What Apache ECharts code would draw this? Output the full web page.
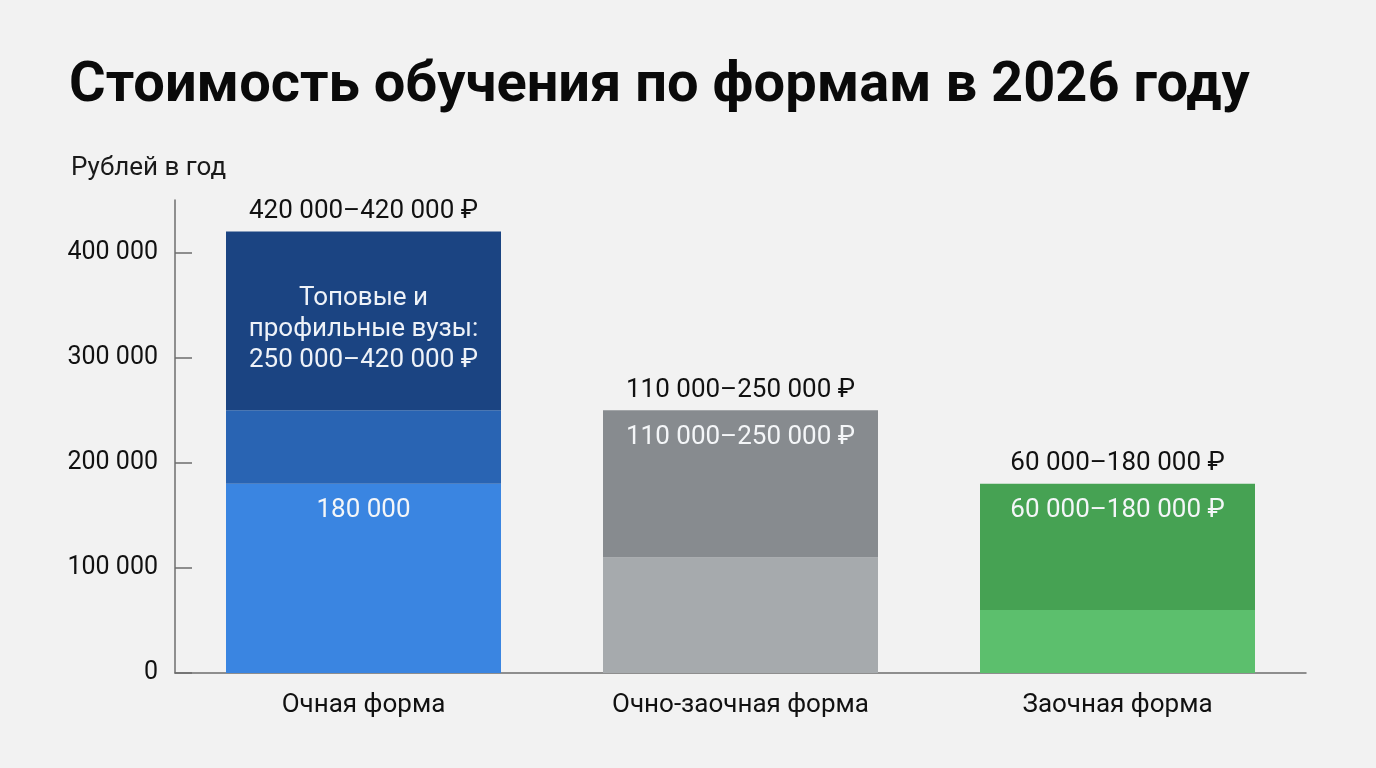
<!DOCTYPE html>
<html>
<head>
<meta charset="utf-8">
<script src="https://cdn.jsdelivr.net/npm/echarts@6/dist/echarts.min.js"></script>
<style>
html,body{margin:0;padding:0;background:#f2f2f2;}
#chart{width:1376px;height:768px;}
</style>
</head>
<body>
<div id="chart"></div>
<script>
const titleText = 'Стоимость обучения по формам в 2026 году';
const unitText = 'Рублей в год';
const categories = ['Очная форма', 'Очно-заочная форма', 'Заочная форма'];
// segment bounds (rubles per year)
const lowerValues = [180000, 110000, 60000];      // top of lower segment
const middleValues = [250000, 250000, 180000];    // top of middle segment
const topTierValues = [420000, null, null];       // top of top-tier segment
const yTicks = [0, 100000, 200000, 300000, 400000];
const topLabels = ['420 000–420 000 ₽', '110 000–250 000 ₽', '60 000–180 000 ₽'];
const innerLabels = ['180 000', '110 000–250 000 ₽', '60 000–180 000 ₽'];
const tierLabel = 'Топовые и\nпрофильные вузы:\n250 000–420 000 ₽';

const lowerColors = ['#3a85e1', '#a6aaad', '#5cbf6d'];
const middleColors = ['#2964b3', '#878b8f', '#46a253'];
const tierColor = '#1b4482';

const fmt = v => String(v).replace(/\B(?=(\d{3})+(?!\d))/g, ' ');

const FONT = 'Roboto';
const FS = 26;
const topLabelStyle = {show: true, position: 'top', distance: 7, color: '#111', fontSize: FS, fontFamily: FONT};
const innerLabelStyle = {show: true, position: 'insideTop', distance: 14, color: '#f4f6f8', fontSize: FS, fontFamily: FONT};

const lowerData = lowerValues.map((v, i) => ({
  value: v,
  itemStyle: {color: lowerColors[i]},
  label: i === 0 ? Object.assign({}, innerLabelStyle, {formatter: innerLabels[i]}) : {show: false}
}));
const middleData = middleValues.map((v, i) => {
  const hasTier = topTierValues[i] != null;
  let label = {show: false};
  if (!hasTier) {
    label = Object.assign({}, innerLabelStyle, {formatter: innerLabels[i]});
  }
  return {value: v - lowerValues[i], itemStyle: {color: middleColors[i]}, label};
});
const middleTopLabels = middleValues.map((v, i) => topTierValues[i] == null ? {
  value: v - lowerValues[i], label: Object.assign({}, topLabelStyle, {formatter: topLabels[i]})
} : {value: v - lowerValues[i], label: {show: false}});
const tierData = topTierValues.map((v, i) => v == null ? '-' : ({
  value: v - middleValues[i],
  itemStyle: {color: tierColor},
  label: {show: true, position: 'inside', offset: [0, 9], color: '#eef2f8', fontSize: FS, lineHeight: 31, fontFamily: FONT, align: 'center', formatter: tierLabel}
}));
const tierTopData = topTierValues.map((v, i) => v == null ? '-' : ({
  value: v - middleValues[i],
  label: Object.assign({}, topLabelStyle, {formatter: topLabels[i]})
}));

const chart = echarts.init(document.getElementById('chart'));
chart.setOption({
  backgroundColor: '#f2f2f2',
  animation: false,
  title: [
    {text: titleText, left: 64, top: 54, textStyle: {fontFamily: FONT, fontWeight: 'bold', fontSize: 56, color: '#0a0a0a'}},
    {text: unitText, left: 66, top: 150, textStyle: {fontFamily: FONT, fontWeight: 'normal', fontSize: FS, color: '#1a1a1a'}}
  ],
  grid: {left: 175, right: 70, top: 200, bottom: 95, containLabel: false},
  xAxis: {
    type: 'category',
    data: categories,
    axisLine: {lineStyle: {color: '#6e6e6e', width: 1.5}},
    axisTick: {show: false},
    axisLabel: {color: '#111', fontSize: FS, fontFamily: FONT, margin: 19}
  },
  yAxis: {
    type: 'value',
    min: 0, max: 450000, interval: 100000,
    splitLine: {show: false},
    axisLine: {show: true, lineStyle: {color: '#6e6e6e', width: 1.5}},
    axisTick: {show: true, inside: true, length: 17, lineStyle: {color: '#6e6e6e', width: 1.5}, customValues: yTicks},
    axisLabel: {color: '#111', fontSize: 25, fontFamily: FONT, margin: 17, customValues: yTicks, formatter: v => fmt(v)}
  },
  series: [
    {type: 'bar', stack: 's', barWidth: 275, data: lowerData, z: 2},
    {type: 'bar', stack: 's', barWidth: 275, data: middleData, z: 2},
    {type: 'bar', stack: 's', barWidth: 275, data: tierData, z: 2},
    // invisible overlay series to carry top labels
    {type: 'bar', stack: 't', barWidth: 275, barGap: '-100%', data: lowerValues.map(v => v), itemStyle: {color: 'rgba(0,0,0,0)'}, silent: true, z: 1},
    {type: 'bar', stack: 't', barWidth: 275, data: middleTopLabels, itemStyle: {color: 'rgba(0,0,0,0)'}, silent: true, z: 1},
    {type: 'bar', stack: 't', barWidth: 275, data: tierTopData, itemStyle: {color: 'rgba(0,0,0,0)'}, silent: true, z: 1}
  ]
});
</script>
</body>
</html>
